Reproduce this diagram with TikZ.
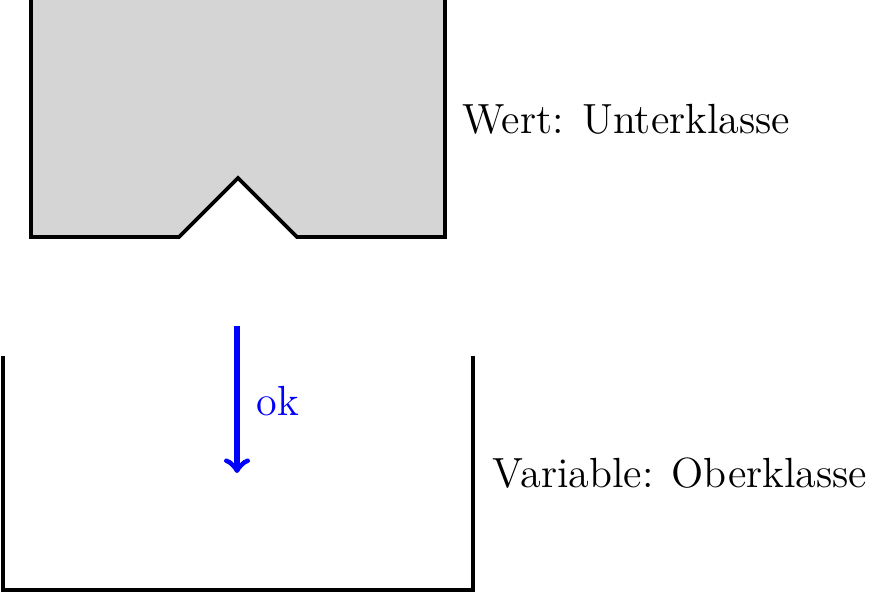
\documentclass[tikz,border=0pt]{standalone}
\usepackage{tikz}

\begin{document}
\begin{tikzpicture}[line width=1.1pt, label/.style={font=\large, inner sep=0pt, anchor=base west}]

    % Bildrahmen
    \useasboundingbox (0, 0) rectangle (8.8, 5.94);

    % Wert (Unterklasse) mit Kerbe unten
    \filldraw[fill=gray!33] (0.31, 5.94) -- (0.31, 3.57) -- (1.79, 3.57) -- (2.38, 4.16)
        -- (2.97, 3.57) -- (4.45, 3.57) -- (4.45, 5.94);
    \node[label] (wert) at (4.61, 4.61) {Wert: Unterklasse};

    % Variable (Oberklasse), oben offen
    \draw (0.03, 2.38) -- (0.03, 0.04) -- (4.73, 0.04) -- (4.73, 2.38);
    \node[label] (var) at (4.91, 1.07) {Variable: Oberklasse};

    % Zuweisung
    \coordinate (von) at (2.37, 2.68);
    \coordinate (nach) at (2.37, 1.21);
    \draw[->, blue, line width=1.6pt] (von) -- (nach);
    \node[label, blue] (ok) at (2.55, 1.79) {ok};

\end{tikzpicture}
\end{document}
